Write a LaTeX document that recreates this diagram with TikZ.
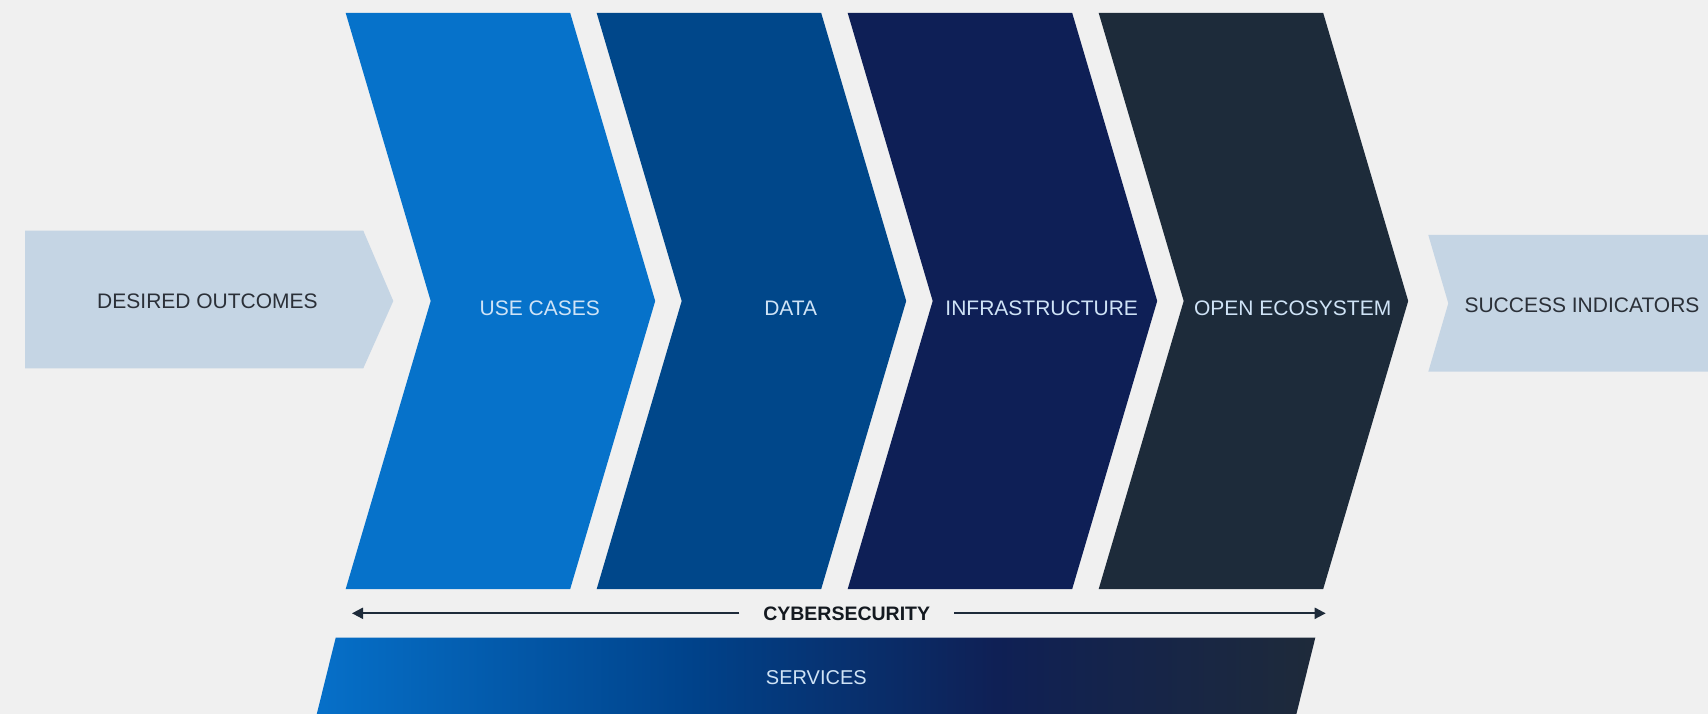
\documentclass[tikz,border=0pt]{standalone}
\usepackage{fontspec}
\setmainfont{Liberation Sans}
\usetikzlibrary{arrows.meta}
\definecolor{bg}{HTML}{F0F0F0}
\definecolor{lightbox}{HTML}{C5D5E4}
\definecolor{chA}{HTML}{0672CA}
\definecolor{chB}{HTML}{00478A}
\definecolor{chC}{HTML}{0E1F56}
\definecolor{chD}{HTML}{1D2B3A}
\definecolor{txtlight}{HTML}{CFE3F6}
\definecolor{txtdark}{HTML}{2B3038}
\definecolor{txtblack}{HTML}{141920}
\definecolor{arrowcol}{HTML}{1E2B3A}
\definecolor{svA}{HTML}{0670C9}
\definecolor{svB}{HTML}{00428A}
\definecolor{svC}{HTML}{0F2055}
\definecolor{svD}{HTML}{1E2A3A}
\pgfdeclarehorizontalshading{servshade}{100bp}{color(0bp)=(svA); color(25bp)=(svA); color(44bp)=(svB); color(59bp)=(svC); color(75bp)=(svD); color(100bp)=(svD)}
\begin{document}
\begin{tikzpicture}[x=1pt,y=-1pt,
  lbl/.style={font=\fontsize{21}{25}\selectfont, text=txtlight, inner sep=0pt},
  dlbl/.style={font=\fontsize{21}{25}\selectfont, text=txtdark, inner sep=0pt},
  arr/.style={draw=arrowcol, line width=2pt, -{Triangle[length=11pt,width=11pt]}}]
\useasboundingbox (0,0) rectangle (1708,714);
\fill[bg] (0,0) rectangle (1708,714);
\begin{scope}
\clip (0,0) rectangle (1708,714);
% side arrows
\fill[lightbox] (25,230.7) -- (363.3,230.7) -- (393.3,301) -- (363.3,368.3) -- (25,368.3) -- cycle;
\node[dlbl] (des) at (207.5,301.7) {DESIRED OUTCOMES};
\fill[lightbox] (1428.3,235) -- (1720,235) -- (1720,371.7) -- (1428.3,371.7) -- (1448.3,303.3) -- cycle;
\node[dlbl] (suc) at (1582,305) {SUCCESS INDICATORS};
% chevrons
\foreach \i/\c/\t in {0/chA/{USE CASES},1/chB/{DATA},2/chC/{INFRASTRUCTURE},3/chD/{OPEN ECOSYSTEM}} {
  \pgfmathsetmacro\L{345.7+251*\i}
  \fill[\c] (\L,13) -- ++(224.5,0) -- ++(85,288) -- ++(-85,288) -- ++(-224.5,0) -- ++(85,-288) -- cycle;
  \node[lbl] (c\i) at (\L+194,308) {\t};
}
% cybersecurity
\coordinate (cyL) at (352,613.3);
\coordinate (cyR) at (1325.7,613.3);
\node[font=\bfseries\fontsize{19.5}{23}\selectfont, text=txtblack, inner xsep=24pt, inner ysep=0pt, outer sep=0pt] (cyber) at (846.7,613.3) {CYBERSECURITY};
\draw[arr] (cyber.west) -- (cyL);
\draw[arr] (cyber.east) -- (cyR);
% services
\shade[shading=servshade] (335.7,637.7) -- (1315.3,637.7) -- (1294.9,720) -- (315.3,720) -- cycle;
\node[font=\fontsize{20}{24}\selectfont, text=txtlight, inner sep=0pt] (serv) at (816.3,677.3) {SERVICES};
\end{scope}
\end{tikzpicture}
\end{document}
